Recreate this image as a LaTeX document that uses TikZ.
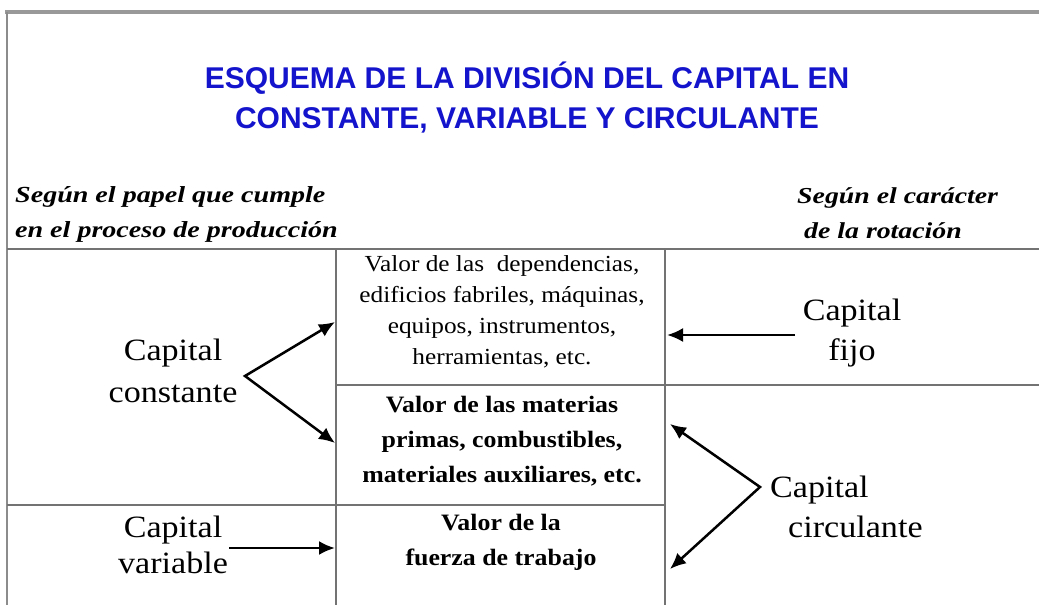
\documentclass[tikz,border=0pt]{standalone}
\usepackage{fontspec}
\setmainfont{Liberation Serif}[FakeStretch=1.1]
\newfontfamily\headfont{Liberation Serif}[FakeStretch=1.22]
\newfontfamily\titlefont{Liberation Sans}
\usetikzlibrary{arrows.meta}
\definecolor{titleblue}{RGB}{20,20,205}
\definecolor{rulegray}{RGB}{115,115,115}
\begin{document}
\begin{tikzpicture}[x=1pt,y=-1pt,
  rule/.style={rulegray, line width=1.3pt},
  titletxt/.style={font=\titlefont\bfseries\fontsize{30}{36}\selectfont, text=titleblue, inner sep=0pt, anchor=base},
  headtxt/.style={font=\headfont\bfseries\itshape\fontsize{23}{34.5}\selectfont, align=left, inner sep=0pt, anchor=base west},
  cellreg/.style={font=\fontsize{23}{30.7}\selectfont, align=center, inner sep=0pt, anchor=base},
  cellbold/.style={font=\bfseries\fontsize{23.5}{35}\selectfont, align=center, inner sep=0pt, anchor=base},
  caplbl/.style={font=\fontsize{31}{40}\selectfont, align=center, inner sep=0pt, anchor=base},
  arr/.style={line width=2.5pt, -{Latex[length=16pt,width=14pt]}},
  darr/.style={line width=2.5pt, {Latex[length=16pt,width=14pt]}-{Latex[length=16pt,width=14pt]}, line join=miter},
]
\useasboundingbox (0,0) rectangle (1039,605);
\fill[white] (0,0) rectangle (1039,605);

% frame
\draw[black!40, line width=4pt] (5,12) -- (1039,12);
\draw[black!45, line width=2pt] (7,12) -- (7,605);

% table rules
\draw[rule] (7,249) -- (1039,249);
\draw[rule] (336,249) -- (336,605);
\draw[rule] (665,249) -- (665,605);
\draw[rule] (336,385) -- (1039,385);
\draw[rule] (7,505) -- (665,505);

% title
\node[titletxt] (t1) at (527,88) {ESQUEMA DE LA DIVISIÓN DEL CAPITAL EN};
\node[titletxt] (t2) at (527,128) {CONSTANTE, VARIABLE Y CIRCULANTE};

% headers (anchor = baseline of last line)
\node[headtxt] (hl) at (15,237) {Según el papel que cumple\\en el proceso de producción};
\node[headtxt, font=\headfont\bfseries\itshape\fontsize{22.8}{35}\selectfont] (hr) at (797,238) {Según el carácter\\\hspace*{7pt}de la rotación};

% cells
\node[cellreg] (v1) at (502,364) {Valor de las\ \ dependencias,\\edificios fabriles, máquinas,\\equipos, instrumentos,\\herramientas, etc.};
\node[cellbold] (v2) at (502,482) {Valor de las materias\\primas, combustibles,\\materiales auxiliares, etc.};
\node[cellbold] (v3) at (501,565) {Valor de la\\fuerza de trabajo};

% capital labels
\node[caplbl, font=\fontsize{31}{42}\selectfont] (cc) at (173,402) {Capital\\constante};
\node[caplbl, font=\fontsize{31}{36}\selectfont] (cv) at (173,573) {Capital\\variable};
\node[caplbl] (cf) at (852,360) {Capital\\fijo};
\node[caplbl, align=left, anchor=base west] (cci) at (770,537) {Capital\\\hspace*{18pt}circulante};

% connector points
\coordinate (vc) at (245,376);
\coordinate (tc1) at (335,322);
\coordinate (tc2) at (335,443);
\coordinate (sf) at (795,335);
\coordinate (tf) at (667,335);
\coordinate (sv) at (229,548);
\coordinate (tv) at (335,548);
\coordinate (vci) at (760,487);
\coordinate (tci1) at (670,424);
\coordinate (tci2) at (670,569);

\draw[darr] (tc1) -- (vc) -- (tc2);
\draw[arr] (sf) -- (tf);
\draw[arr] (sv) -- (tv);
\draw[darr] (tci1) -- (vci) -- (tci2);
\end{tikzpicture}
\end{document}
